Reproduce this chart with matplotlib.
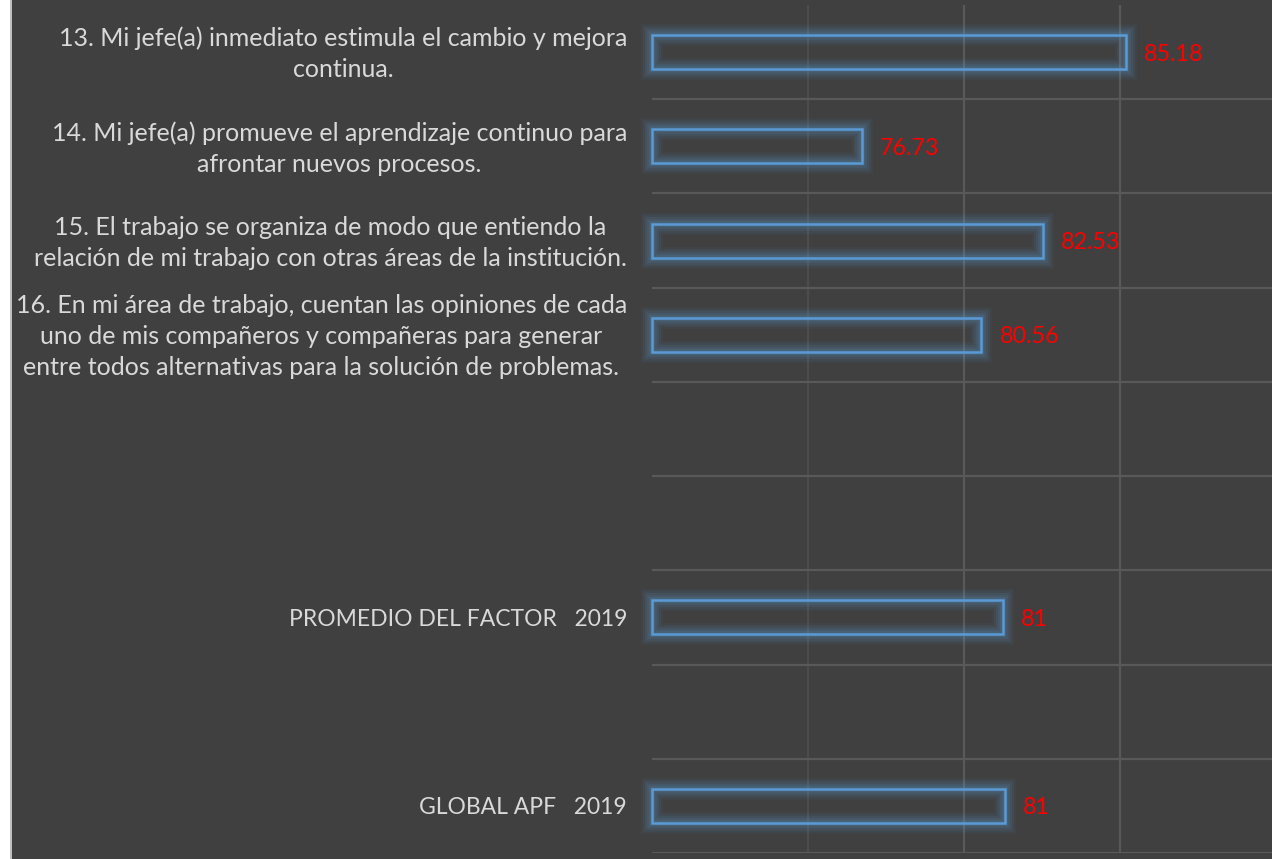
import matplotlib
matplotlib.use('Agg')
import matplotlib.pyplot as plt
import matplotlib.transforms as mtransforms
from matplotlib.patches import Rectangle

# datos del grafico (de arriba hacia abajo)
categorias = [
    '13. Mi jefe(a) inmediato estimula el cambio y mejora\ncontinua.',
    '14. Mi jefe(a) promueve el aprendizaje continuo para\nafrontar nuevos procesos.',
    '15. El trabajo se organiza de modo que entiendo la\nrelación de mi trabajo con otras áreas de la institución.',
    '16. En mi área de trabajo, cuentan las opiniones de cada\nuno de mis compañeros y compañeras para generar\nentre todos alternativas para la solución de problemas.',
    '',
    '',
    'PROMEDIO DEL FACTOR   2019',
    '',
    'GLOBAL APF   2019',
]
valores = [85.18, 76.73, 82.53, 80.56, None, None, 81.25, None, 81.3]
etiquetas = ['85.18', '76.73', '82.53', '80.56', '', '', '81', '', '81']
x_min, x_max = 70, 90
x_ticks = [75, 80, 85, 90]

fondo = '#404040'
azul = '#5B9BD5'
texto = '#D9D9D9'
rejilla = '#595959'

W, H = 1272, 859
fig = plt.figure(figsize=(W / 100, H / 100), dpi=100)
fig.patch.set_facecolor('white')

# panel oscuro con borde gris a la izquierda
fig.add_artist(Rectangle((10 / W, 0), 1, 1, transform=fig.transFigure,
                         facecolor=fondo, edgecolor='none', zorder=0))
fig.add_artist(Rectangle((10 / W, 0), 2 / W, 1, transform=fig.transFigure,
                         facecolor='#BFBFBF', edgecolor='none', zorder=0))

ax = fig.add_axes([652 / W, 6 / H, 624 / W, 848 / H])
ax.set_facecolor('none')
n = len(categorias)
ax.set_xlim(x_min, x_max)
ax.set_ylim(n - 0.5, -0.5)

for s in ax.spines.values():
    s.set_visible(False)

# rejilla
for xv in x_ticks:
    ax.axvline(xv, color=rejilla, lw=1.6 if xv != 75 else 1.2,
               alpha=1.0 if xv != 75 else 0.6, zorder=1)
for k in range(n):
    ax.axhline(k + 0.5, color=rejilla, lw=1.6, zorder=1)

alto = 0.36
for i, v in enumerate(valores):
    if v is None:
        continue
    # brillo difuso
    for lw, a in [(16, 0.05), (13, 0.07), (10, 0.09), (7, 0.11), (4, 0.14)]:
        ax.add_patch(Rectangle((x_min, i - alto / 2), v - x_min, alto,
                               facecolor='none', edgecolor=azul, lw=lw,
                               alpha=a, zorder=2, clip_on=False))
    ax.add_patch(Rectangle((x_min, i - alto / 2), v - x_min, alto,
                           facecolor='none', edgecolor=azul, lw=1.8,
                           zorder=3, clip_on=False))
    ax.annotate(etiquetas[i], (v, i), xytext=(13, -1.5),
                textcoords='offset points', va='center', ha='left',
                color='#FF0000', fontsize=16.8, family='Lato')

ax.set_xticks([])
ax.set_yticks(range(n))
ax.set_yticklabels(categorias, multialignment='center', color=texto,
                   fontsize=18, family='Lato', linespacing=1.42)
ax.tick_params(axis='y', length=0, pad=18)
# las mayusculas de Lato son mas anchas; textos un poco mas arriba
subir = mtransforms.ScaledTranslation(0, 4 / 100, fig.dpi_scale_trans)
for t in ax.get_yticklabels():
    if t.get_text().startswith(('PROMEDIO', 'GLOBAL')):
        t.set_fontsize(16.5)
    else:
        t.set_transform(t.get_transform() + subir)

fig.savefig('out.png', dpi=100, facecolor=fig.get_facecolor())
